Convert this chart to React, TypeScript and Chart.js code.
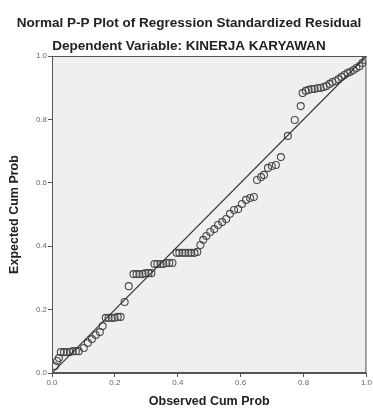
import React, { useEffect, useRef } from "react";
import { Chart, registerables } from "chart.js";

Chart.register(...registerables);

const titleLines = [
  "Normal P-P Plot of Regression Standardized Residual",
  "Dependent Variable: KINERJA KARYAWAN",
];
const xAxisTitle = "Observed Cum Prob";
const yAxisTitle = "Expected Cum Prob";

const observedCumProb = [
  0.009, 0.016, 0.022,
  0.028, 0.038, 0.047, 0.057, 0.066, 0.076, 0.085,
  0.101, 0.114, 0.127, 0.139, 0.152, 0.161,
  0.171, 0.18, 0.19, 0.199, 0.209, 0.218,
  0.231, 0.244,
  0.259, 0.269, 0.278, 0.288, 0.297, 0.307, 0.316,
  0.326, 0.335, 0.345, 0.354, 0.364, 0.373, 0.383,
  0.396, 0.405, 0.415, 0.424, 0.434, 0.443, 0.453, 0.462,
  0.472, 0.481, 0.491, 0.503, 0.516, 0.528, 0.541, 0.554,
  0.566, 0.579, 0.592,
  0.604, 0.617, 0.63, 0.642,
  0.652, 0.665, 0.674,
  0.687, 0.699, 0.712,
  0.728,
  0.75, 0.772, 0.791,
  0.797, 0.807, 0.816, 0.826, 0.835, 0.845, 0.854, 0.864, 0.873, 0.883,
  0.892, 0.902, 0.911, 0.921, 0.93, 0.94, 0.949, 0.959, 0.968, 0.978, 0.987, 0.997,
];

const expectedCumProb = [
  0.022, 0.038, 0.047,
  0.066, 0.066, 0.066, 0.066, 0.069, 0.069, 0.069,
  0.079, 0.095, 0.107, 0.12, 0.129, 0.148,
  0.174, 0.174, 0.174, 0.174, 0.177, 0.177,
  0.224, 0.274,
  0.312, 0.312, 0.312, 0.312, 0.315, 0.315, 0.315,
  0.344, 0.344, 0.344, 0.344, 0.347, 0.347, 0.347,
  0.379, 0.379, 0.379, 0.379, 0.379, 0.379, 0.379, 0.382,
  0.404, 0.42, 0.432, 0.445, 0.454, 0.467, 0.476, 0.486,
  0.502, 0.514, 0.517,
  0.533, 0.546, 0.552, 0.555,
  0.609, 0.618, 0.625,
  0.647, 0.653, 0.656,
  0.681,
  0.748, 0.798, 0.842,
  0.883, 0.89, 0.893, 0.896, 0.896, 0.899, 0.899, 0.902, 0.905, 0.912,
  0.918, 0.921, 0.927, 0.934, 0.94, 0.946, 0.95, 0.956, 0.962, 0.968, 0.978, 0.987,
];

const refLineX = [0, 1];
const refLineY = [0, 1];
const tickValues = [0, 0.2, 0.4, 0.6, 0.8, 1.0];

const FONT = "'Liberation Sans', Arial, sans-serif";

const framePlugin = {
  id: "frameAndTitle",
  beforeDatasetsDraw(chart: any) {
    const { ctx, chartArea } = chart;
    ctx.save();
    ctx.fillStyle = "#efefef";
    ctx.fillRect(chartArea.left, chartArea.top, chartArea.right - chartArea.left, chartArea.bottom - chartArea.top);
    ctx.restore();
  },
  afterDraw(chart: any) {
    const { ctx, chartArea } = chart;
    ctx.save();
    ctx.strokeStyle = "#555";
    ctx.lineWidth = 1;
    ctx.strokeRect(chartArea.left + 0.5, chartArea.top + 0.5, chartArea.right - chartArea.left - 1, chartArea.bottom - chartArea.top - 1);
    ctx.fillStyle = "#222";
    ctx.textAlign = "center";
    ctx.textBaseline = "middle";
    ctx.font = `bold 13.5px ${FONT}`;
    ctx.fillText(titleLines[0], 189, 23);
    ctx.fillText(titleLines[1], 189, 46);
    ctx.restore();
  },
};

export default function App() {
  const ref = useRef<HTMLCanvasElement>(null);
  useEffect(() => {
    document.body.style.margin = "0";
    const canvas = ref.current!;
    const chart = new Chart(canvas, {
      type: "scatter",
      data: {
        datasets: [
          {
            type: "line",
            data: refLineX.map((x, i) => ({ x, y: refLineY[i] })),
            borderColor: "#333",
            borderWidth: 1.2,
            pointRadius: 0,
            fill: false,
          } as any,
          {
            type: "scatter",
            data: observedCumProb.map((x, i) => ({ x, y: expectedCumProb[i] })),
            pointStyle: "circle",
            pointRadius: 3.5,
            borderColor: "#4a4a4a",
            borderWidth: 1.1,
            backgroundColor: "rgba(0,0,0,0)",
          },
        ],
      },
      options: {
        animation: false,
        responsive: false,
        devicePixelRatio: 1,
        layout: { padding: { top: 56, left: 0, right: 5, bottom: 0 } },
        plugins: { legend: { display: false }, tooltip: { enabled: false }, title: { display: false } },
        scales: {
          x: {
            type: "linear",
            min: 0,
            max: 1,
            afterFit(scale: any) { scale.height = 39; },
            afterBuildTicks(scale: any) { scale.ticks = tickValues.map((v) => ({ value: v })); },
            ticks: {
              callback: (v: any) => Number(v).toFixed(1),
              font: { size: 8, family: FONT },
              color: "#666",
              padding: 1,
              maxRotation: 0,
            },
            grid: { drawOnChartArea: false, drawTicks: true, tickLength: 4, color: "#555" },
            border: { display: true, color: "#555", width: 1 },
            title: {
              display: true,
              text: xAxisTitle,
              font: { size: 12.5, weight: "bold", family: FONT },
              color: "#222",
              padding: { top: 0, bottom: 2.5 },
            },
          },
          y: {
            type: "linear",
            min: 0,
            max: 1,
            afterFit(scale: any) { scale.width = 52; },
            afterBuildTicks(scale: any) { scale.ticks = tickValues.map((v) => ({ value: v })); },
            ticks: {
              callback: (v: any) => Number(v).toFixed(1),
              font: { size: 8, family: FONT },
              color: "#666",
              padding: 1,
            },
            grid: { drawOnChartArea: false, drawTicks: true, tickLength: 4, color: "#555" },
            border: { display: true, color: "#555", width: 1 },
            title: {
              display: true,
              text: yAxisTitle,
              font: { size: 12.5, weight: "bold", family: FONT },
              color: "#222",
              padding: { top: 7.5, bottom: 0 },
            },
          },
        },
      },
      plugins: [framePlugin],
    } as any);
    return () => chart.destroy();
  }, []);
  return <canvas ref={ref} width={373} height={412} style={{ display: "block", width: 373, height: 412 }} />;
}
